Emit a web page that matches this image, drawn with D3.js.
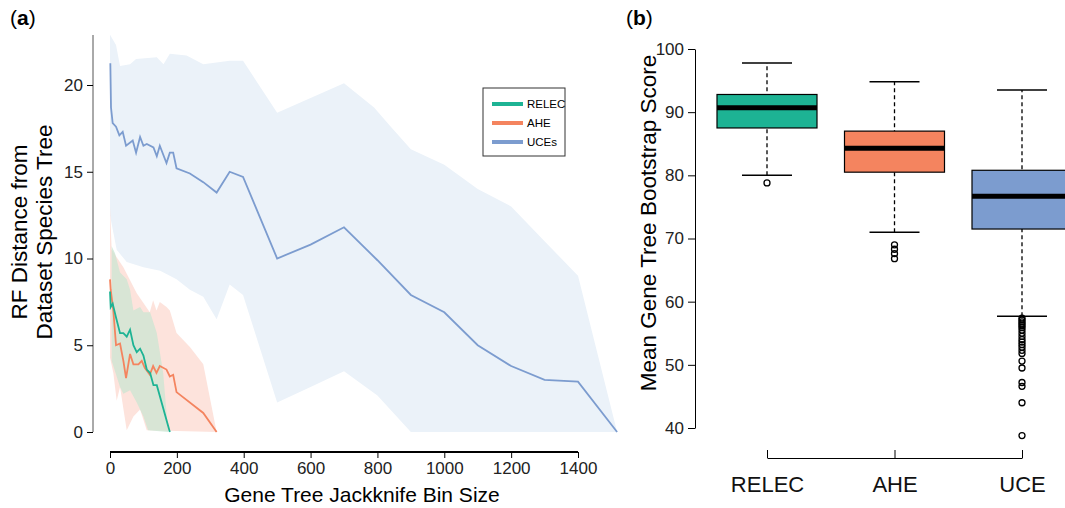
<!DOCTYPE html><html><head><meta charset="utf-8"><script src="https://cdn.jsdelivr.net/npm/d3@7"></script>
<style>body{margin:0;background:#fff}text{font-family:"Liberation Sans",Arial,sans-serif}</style></head><body><svg id="c" width="1065" height="508"></svg><script>
const relecX=[0,2,8,18,30,40,50,60,70,80,90,100,110,120,130,140,179];
const relecY=[8.1,7.2,7.4,6.6,5.7,5.7,5.5,5.9,5.0,4.6,4.8,4.4,3.6,3.4,2.7,2.7,0];
const aheX=[0,2,10,18,30,40,48,60,70,85,95,104,119,129,139,149,169,179,189,199,279,319];
const aheY=[8.8,8.2,7.0,5.0,5.1,4.1,3.1,4.5,3.9,3.9,4.1,3.7,3.3,3.8,3.4,3.8,3.6,3.2,3.3,2.3,1.1,0];
const uceX=[1,3,8,18,28,38,48,68,78,90,100,110,130,140,149,169,179,189,199,239,279,319,358,398,500,600,700,800,900,1000,1100,1200,1300,1400,1517];
const uceY=[21.25,18.7,17.8,17.6,17.1,17.3,16.5,16.8,16.1,17.0,16.5,16.6,16.4,15.9,16.5,15.5,16.1,16.1,15.2,14.9,14.4,13.8,15.0,14.7,10.0,10.8,11.8,9.9,7.9,6.9,5.0,3.8,3.0,2.9,0];
const uceUpX=[0,18,30,60,78,140,160,179,229,279,358,398,500,700,790,840,900,1000,1100,1200,1300,1400,1517];
const uceUp=[22.9,22.3,21.1,21.2,21.5,21.6,21.2,21.8,21.7,21.2,21.4,21.4,18.4,20.1,18.7,17.6,16.3,15.4,14.0,13.0,11.0,9.0,0];
const uceLoX=[0,20,50,100,150,199,239,279,319,358,398,500,600,700,800,900,1517];
const uceLo=[12.5,10.5,9.8,9.5,9.3,8.8,8.2,7.8,6.5,8.5,7.9,1.7,2.6,3.5,2.1,0,0];
const aheUpX=[0,5,40,80,119,129,139,149,169,179,199,239,279,319];
const aheUp=[13,10.5,9.5,8.0,6.9,7.6,7.0,7.5,7.2,7.0,5.7,4.9,3.9,0];
const aheLoX=[0,10,20,30,50,70,90,110,319];
const aheLo=[4.3,3.4,1.8,2.6,0.1,0.9,1.3,0.1,0];
const relUpX=[5,15,30,50,60,70,90,100,120,140,159,174];
const relUp=[10.7,10.3,9.2,8.8,8.2,7.0,7.2,6.9,6.9,5.7,3.4,0];
const relLoX=[5,30,40,60,80,100,114,174];
const relLo=[4.1,2.6,2.2,2.4,1.7,0.9,0.1,0];
const boxCats=["RELEC","AHE","UCE"];
const boxStats=[[80,87.5,90.7,92.8,97.8],[71,80.5,84.3,87,94.8],[57.7,71.5,76.7,80.8,93.5]];
const outliers=[[78.8],[69,68.3,67.6,66.8],[57.4,57.1,56.8,56.5,56.2,55.9,55.5,55,54.5,54,53.6,53.2,52.8,52.3,51.8,50.6,49.5,47.2,46.6,44,38.8]];
const cols=["#1db394","#f4845f","#7c9ccf"];
const svg=d3.select("#c");
const x=d3.scaleLinear().domain([0,1400]).range([110,578]);
const y=d3.scaleLinear().domain([0,20]).range([432,85]);
function band(ux,uy,lx,ly,fill){const pts=ux.map((v,i)=>[x(v),y(uy[i])]).concat(lx.map((v,i)=>[x(v),y(ly[i])]).reverse());
svg.append("path").attr("d",d3.line()(pts)+"Z").attr("fill",fill);}
band(uceUpX,uceUp,uceLoX,uceLo,"#ebf2f9");
band(aheUpX,aheUp,aheLoX,aheLo,"#fde3dc");
band(relUpX,relUp,relLoX,relLo,"rgba(200,230,210,0.7)");
const ln=d3.line().x(d=>x(d[0])).y(d=>y(d[1]));
[[uceX,uceY,2],[aheX,aheY,1],[relecX,relecY,0]].forEach(([a,b,c])=>svg.append("path").attr("d",ln(a.map((v,i)=>[v,b[i]]))).attr("fill","none").attr("stroke",cols[c]).attr("stroke-width",1.8));
const ya=svg.append("g").attr("transform","translate(93,0)").call(d3.axisLeft(y).tickValues([0,5,10,15,20]).tickSize(6).tickPadding(4));
ya.select(".domain").attr("d","M-0,35V432").attr("stroke","#555");
const xa=svg.append("g").attr("transform","translate(0,452)").call(d3.axisBottom(x).tickValues(d3.range(0,1401,200)).tickFormat(d3.format("d")).tickSize(6).tickPadding(4).tickSizeOuter(0));
xa.select(".domain").attr("d","M110,0H578").attr("stroke-width",2);
svg.selectAll(".tick text").attr("font-size",17).attr("fill","#222");
svg.append("text").attr("x",362).attr("y",502).attr("text-anchor","middle").attr("font-size",21).text("Gene Tree Jackknife Bin Size");
svg.append("text").attr("transform","translate(27,232) rotate(-90)").attr("text-anchor","middle").attr("font-size",22.5).text("RF Distance from");
svg.append("text").attr("transform","translate(52,232) rotate(-90)").attr("text-anchor","middle").attr("font-size",22.5).text("Dataset Species Tree");
const lg=svg.append("g");
lg.append("rect").attr("x",483).attr("y",88).attr("width",82).attr("height",68).attr("fill","#fff").attr("stroke","#333");
["RELEC","AHE","UCEs"].forEach((t,i)=>{lg.append("line").attr("x1",492).attr("x2",523).attr("y1",104+i*19).attr("y2",104+i*19).attr("stroke",cols[i]).attr("stroke-width",4);
lg.append("text").attr("x",527).attr("y",108+i*19).attr("font-size",11.5).text(t);});
svg.append("text").attr("x",10).attr("y",25).attr("font-size",21).html('(<tspan font-weight="bold">a</tspan>)');
svg.append("text").attr("x",626).attr("y",25).attr("font-size",21).html('(<tspan font-weight="bold">b</tspan>)');
const yb=d3.scaleLinear().domain([40,100]).range([428,49]);
const xb=d3.scalePoint().domain(boxCats).range([767,1022]);
const yba=svg.append("g").attr("transform","translate(695,0)").call(d3.axisLeft(yb).ticks(6).tickSize(7).tickPadding(4).tickSizeOuter(0));
yba.selectAll("text").attr("font-size",17).attr("fill","#222");
const xba=svg.append("g").attr("transform","translate(0,458)").call(d3.axisBottom(xb).tickSize(-8).tickPadding(18).tickSizeOuter(0));
xba.selectAll("text").attr("font-size",22).attr("fill","#111");
svg.append("text").attr("transform","translate(656,223) rotate(-90)").attr("text-anchor","middle").attr("font-size",22.5).text("Mean Gene Tree Bootstrap Score");
boxCats.forEach((c,i)=>{const s=boxStats[i],cx=xb(c),w=100;const g=svg.append("g");
g.append("line").attr("x1",cx).attr("x2",cx).attr("y1",yb(s[0])).attr("y2",yb(s[4])).attr("stroke","#000").attr("stroke-dasharray","4,3").attr("stroke-width",1.3);
[s[0],s[4]].forEach(v=>g.append("line").attr("x1",cx-25).attr("x2",cx+25).attr("y1",yb(v)).attr("y2",yb(v)).attr("stroke","#000").attr("stroke-width",1.5));
g.append("rect").attr("x",cx-w/2).attr("width",w).attr("y",yb(s[3])).attr("height",yb(s[1])-yb(s[3])).attr("fill",cols[i]).attr("stroke","#000").attr("stroke-width",1.2);
g.append("line").attr("x1",cx-w/2).attr("x2",cx+w/2).attr("y1",yb(s[2])).attr("y2",yb(s[2])).attr("stroke","#000").attr("stroke-width",5);
outliers[i].forEach(v=>g.append("circle").attr("cx",cx).attr("cy",yb(v)).attr("r",3).attr("fill","none").attr("stroke","#000").attr("stroke-width",1.3));});
</script></body></html>
